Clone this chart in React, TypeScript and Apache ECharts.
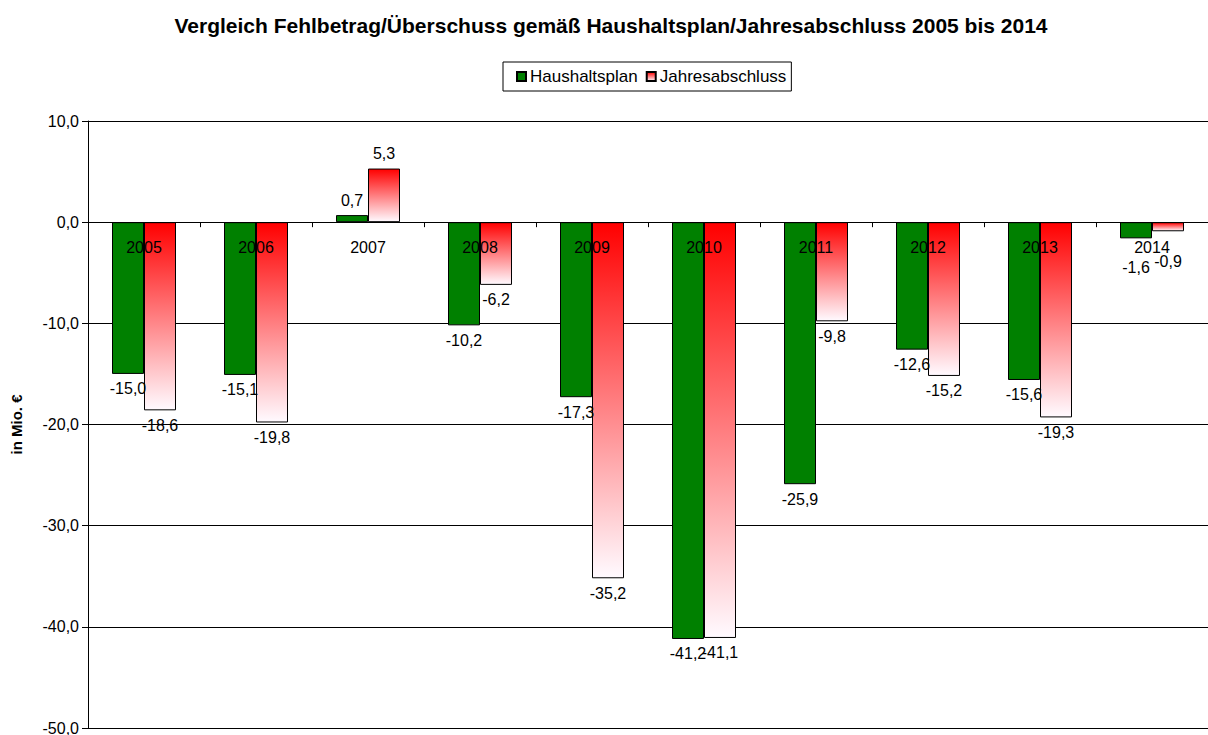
import React, { useEffect, useRef } from "react";
import * as echarts from "echarts";

const titleText = "Vergleich Fehlbetrag/Überschuss gemäß Haushaltsplan/Jahresabschluss 2005 bis 2014";
const years = ["2005", "2006", "2007", "2008", "2009", "2010", "2011", "2012", "2013", "2014"];
const haushaltsplan = [-15.0, -15.1, 0.7, -10.2, -17.3, -41.2, -25.9, -12.6, -15.6, -1.6];
const jahresabschluss = [-18.6, -19.8, 5.3, -6.2, -35.2, -41.1, -9.8, -15.2, -19.3, -0.9];
const seriesNames = ["Haushaltsplan", "Jahresabschluss"];
const yMin = -50;
const yMax = 10;
const yStep = 10;

const FONT = "'Liberation Sans', Arial, sans-serif";
const fmt = (v: number) => v.toFixed(1).replace(".", ",");

const W = 1208;
const H = 735;
const GRID_TOP = 121;
const GRID_BOTTOM = 7;

export default function App() {
  const ref = useRef<HTMLDivElement>(null);
  useEffect(() => {
    document.body.style.margin = "0";
    if (!ref.current) return;
    const chart = echarts.init(ref.current, undefined, { renderer: "svg" });

    const gridH = H - GRID_TOP - GRID_BOTTOM;
    const zeroY = GRID_TOP + (gridH * yMax) / (yMax - yMin);
    const xAxisOffset = -(GRID_TOP + gridH - zeroY);

    const mkData = (vals: number[], extraOffsetY: (i: number) => number) =>
      vals.map((v, i) => ({
        value: v,
        label: {
          position: v < 0 ? "bottom" : "top",
          offset: [0, extraOffsetY(i)],
        },
      }));

    const redGrad = new echarts.graphic.LinearGradient(0, 0, 0, 1, [
      { offset: 0, color: "#FF0000" },
      { offset: 1, color: "#FFFAFF" },
    ]);

    const labelCommon = {
      show: true,
      distance: 7,
      color: "#000",
      fontSize: 16,
      fontFamily: FONT,
      formatter: (p: any) => fmt(p.value),
    };

    chart.setOption({
      animation: false,
      backgroundColor: "#fff",
      title: {
        text: titleText,
        left: 606,
        textAlign: "center",
        top: 10,
        textStyle: { fontSize: 21, fontWeight: "bold", color: "#000", fontFamily: FONT },
      },
      legend: {
        data: seriesNames,
        left: 503,
        top: 62,
        orient: "horizontal",
        borderColor: "#000",
        borderWidth: 1,
        padding: [6, 5, 6, 13],
        itemWidth: 9,
        itemHeight: 9,
        itemGap: 8,
        icon: "rect",
        textStyle: { fontSize: 17, color: "#000", fontFamily: FONT, padding: [0, 0, 0, -1] },
      },
      grid: { left: 88, right: 0, top: GRID_TOP, bottom: GRID_BOTTOM, containLabel: false, outerBoundsMode: "none" },
      xAxis: {
        type: "category",
        data: years,
        offset: xAxisOffset,
        z: 5,
        axisLine: { onZero: false, lineStyle: { color: "#000", width: 1 } },
        axisTick: { show: true, length: 5, lineStyle: { color: "#000" } },
        axisLabel: { color: "#000", fontSize: 16, fontFamily: FONT, margin: 17 },
      },
      yAxis: {
        type: "value",
        min: yMin,
        max: yMax,
        interval: yStep,
        name: "in Mio. €",
        nameLocation: "middle",
        nameGap: 64,
        nameTextStyle: { fontSize: 15, fontWeight: "bold", color: "#000", fontFamily: FONT },
        axisLine: { show: true, onZero: false, lineStyle: { color: "#000" } },
        axisTick: { show: true, length: 6, lineStyle: { color: "#000" } },
        axisLabel: { color: "#000", fontSize: 16, fontFamily: FONT, margin: 9, formatter: (v: number) => fmt(v) },
        splitLine: { show: true, lineStyle: { color: "#000", width: 1 } },
      },
      series: [
        {
          name: seriesNames[0],
          type: "bar",
          barWidth: 32,
          barGap: "0%",
          data: mkData(haushaltsplan, (i) => (i === 9 ? 14 : 0)),
          itemStyle: { color: "#008000", borderColor: "#000", borderWidth: 1 },
          label: labelCommon,
        },
        {
          name: seriesNames[1],
          type: "bar",
          barWidth: 32,
          barGap: "0%",
          data: mkData(jahresabschluss, (i) => (i === 9 ? 15 : 0)),
          itemStyle: { color: redGrad, borderColor: "#000", borderWidth: 1 },
          label: labelCommon,
        },
      ],
    });
    return () => chart.dispose();
  }, []);
  return <div ref={ref} style={{ width: W, height: H }} />;
}
